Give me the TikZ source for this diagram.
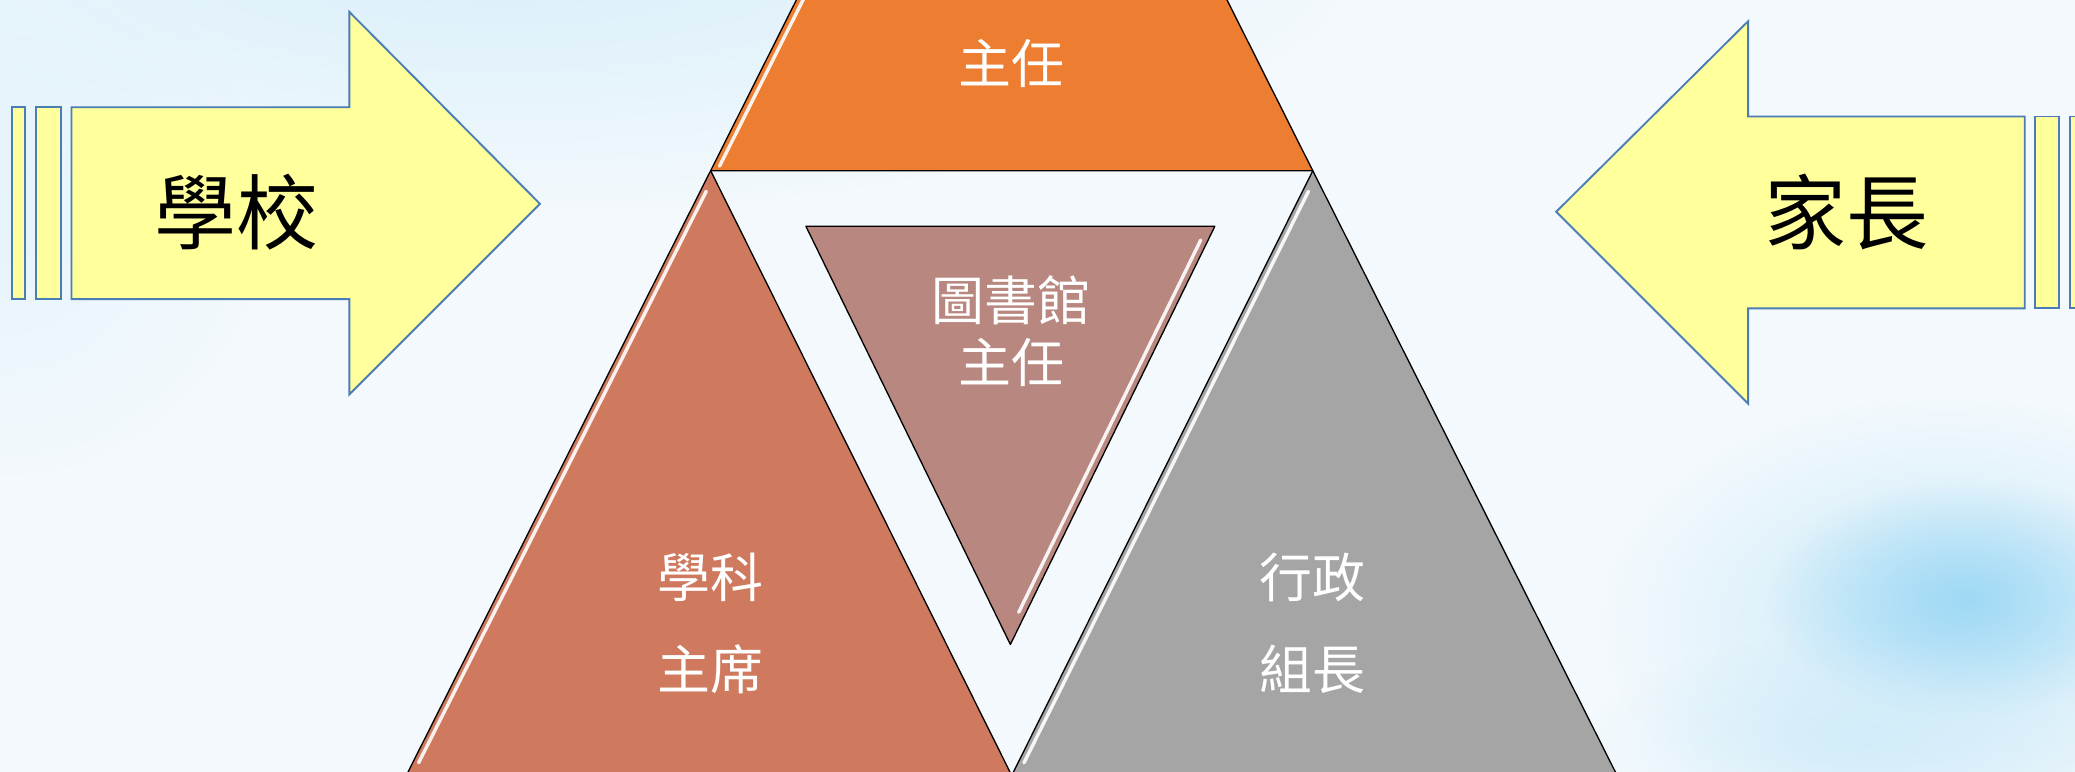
\documentclass[tikz,border=0pt]{standalone}
\usepackage{fontspec}
\newfontfamily\cjk{Noto Sans CJK TC}
\usetikzlibrary{fadings,calc}
\tikzfading[name=softfade, inner color=transparent!0, outer color=transparent!100]
\definecolor{bgmid}{HTML}{F3F9FD}
\definecolor{bgtop}{HTML}{D9EFFB}
\definecolor{cloud}{HTML}{9FD9F5}
\definecolor{cloudhalo}{HTML}{CBEAF9}
\definecolor{arrowfill}{HTML}{FFFF9C}
\definecolor{arrowline}{HTML}{4A7DB5}
\definecolor{orangetop}{HTML}{ED7D31}
\definecolor{salmon}{HTML}{CF7A5E}
\definecolor{mauve}{HTML}{B8877F}
\definecolor{greytri}{HTML}{A5A5A5}
\tikzset{
  arrowshape/.style={fill=arrowfill, draw=arrowline, line width=1.4pt, line join=miter},
  trishape/.style={draw=black, line width=1pt, line join=round},
  gloss/.style={draw=white, line width=2.6pt, opacity=0.9, line cap=round},
  bigtext/.style={font=\cjk\fontsize{62}{70}\selectfont, text=black, inner sep=0pt},
  smalltext/.style={font=\cjk\fontsize{40}{46}\selectfont, text=white, inner sep=0pt, align=center}
}
\begin{document}
\begin{tikzpicture}[x=1pt,y=-1pt]
\useasboundingbox (0,0) rectangle (1568,583);
\clip (0,0) rectangle (1568,583);
% background
\fill[bgmid] (0,0) rectangle (1568,583);
\fill[bgtop, path fading=softfade] (380,-40) ellipse (650 and 200);
\fill[bgtop, opacity=0.5, path fading=softfade] (0,160) ellipse (200 and 200);
\fill[cloudhalo, path fading=softfade] (1470,470) ellipse (260 and 170);
\fill[cloud, path fading=softfade] (1485,452) ellipse (150 and 90);
\fill[cloudhalo, opacity=0.7, path fading=softfade] (1400,560) ellipse (200 and 80);

% coordinates of the triangle arrangement
\coordinate (apex) at (764.5,-324);
\coordinate (ml) at (537,129);
\coordinate (mr) at (992,129);
\coordinate (bl) at (307,586);
\coordinate (bm) at (764.5,586);
\coordinate (br) at (1222,586);
\coordinate (il) at (609,171);
\coordinate (ir) at (918,171);
\coordinate (ib) at (763.5,487);

% top (orange)
\filldraw[trishape, fill=orangetop] (ml) -- (apex) -- (mr) -- cycle;
\begin{scope}
  \clip (ml) -- (apex) -- (mr) -- cycle;
  \draw[gloss] ($(ml)!0.012!(apex)+(4,2)$) -- ($(ml)!0.5!(apex)+(4,2)$);
\end{scope}
% bottom-left (salmon)
\filldraw[trishape, fill=salmon] (bl) -- (ml) -- (bm) -- cycle;
\begin{scope}
  \clip (bl) -- (ml) -- (bm) -- cycle;
  \draw[gloss] ($(ml)!0.03!(bl)+(3.6,1.8)$) -- ($(ml)!0.975!(bl)+(3.6,1.8)$);
\end{scope}
% bottom-right (grey)
\filldraw[trishape, fill=greytri] (bm) -- (mr) -- (br) -- cycle;
\begin{scope}
  \clip (bm) -- (mr) -- (br) -- cycle;
  \draw[gloss] ($(mr)!0.03!(bm)+(3.6,1.8)$) -- ($(mr)!0.975!(bm)+(3.6,1.8)$);
\end{scope}
% inner inverted (mauve)
\filldraw[trishape, fill=mauve] (il) -- (ir) -- (ib) -- cycle;
\begin{scope}
  \clip (il) -- (ir) -- (ib) -- cycle;
  \draw[gloss] ($(ir)!0.04!(ib)+(-4.5,-2.2)$) -- ($(ir)!0.93!(ib)+(-4.5,-2.2)$);
\end{scope}

% left arrow
\filldraw[arrowshape] (9,81) rectangle (19,226);
\filldraw[arrowshape] (27,81) rectangle (46,226);
\filldraw[arrowshape] (54,81) -- (264,81) -- (264,9) -- (408,154) -- (264,298) -- (264,226) -- (54,226) -- cycle;
% right arrow
\filldraw[arrowshape] (1538,88) rectangle (1556,233);
\filldraw[arrowshape] (1564,88) rectangle (1595,233);
\filldraw[arrowshape] (1530,88) -- (1321,88) -- (1321,16) -- (1176,160) -- (1321,305) -- (1321,233) -- (1530,233) -- cycle;

% texts
\node[bigtext] (school) at (179,160) {學校};
\node[bigtext] (parent) at (1395,160) {家長};
\node[smalltext] (head) at (764,48) {主任};
\node[smalltext, font=\cjk\fontsize{40}{47}\selectfont] (lib) at (764,250) {圖書館\\主任};
\node[smalltext, font=\cjk\fontsize{40}{70}\selectfont] (subj) at (537,471) {學科\\主席};
\node[smalltext, font=\cjk\fontsize{40}{70}\selectfont] (admin) at (992,471) {行政\\組長};
\end{tikzpicture}
\end{document}
